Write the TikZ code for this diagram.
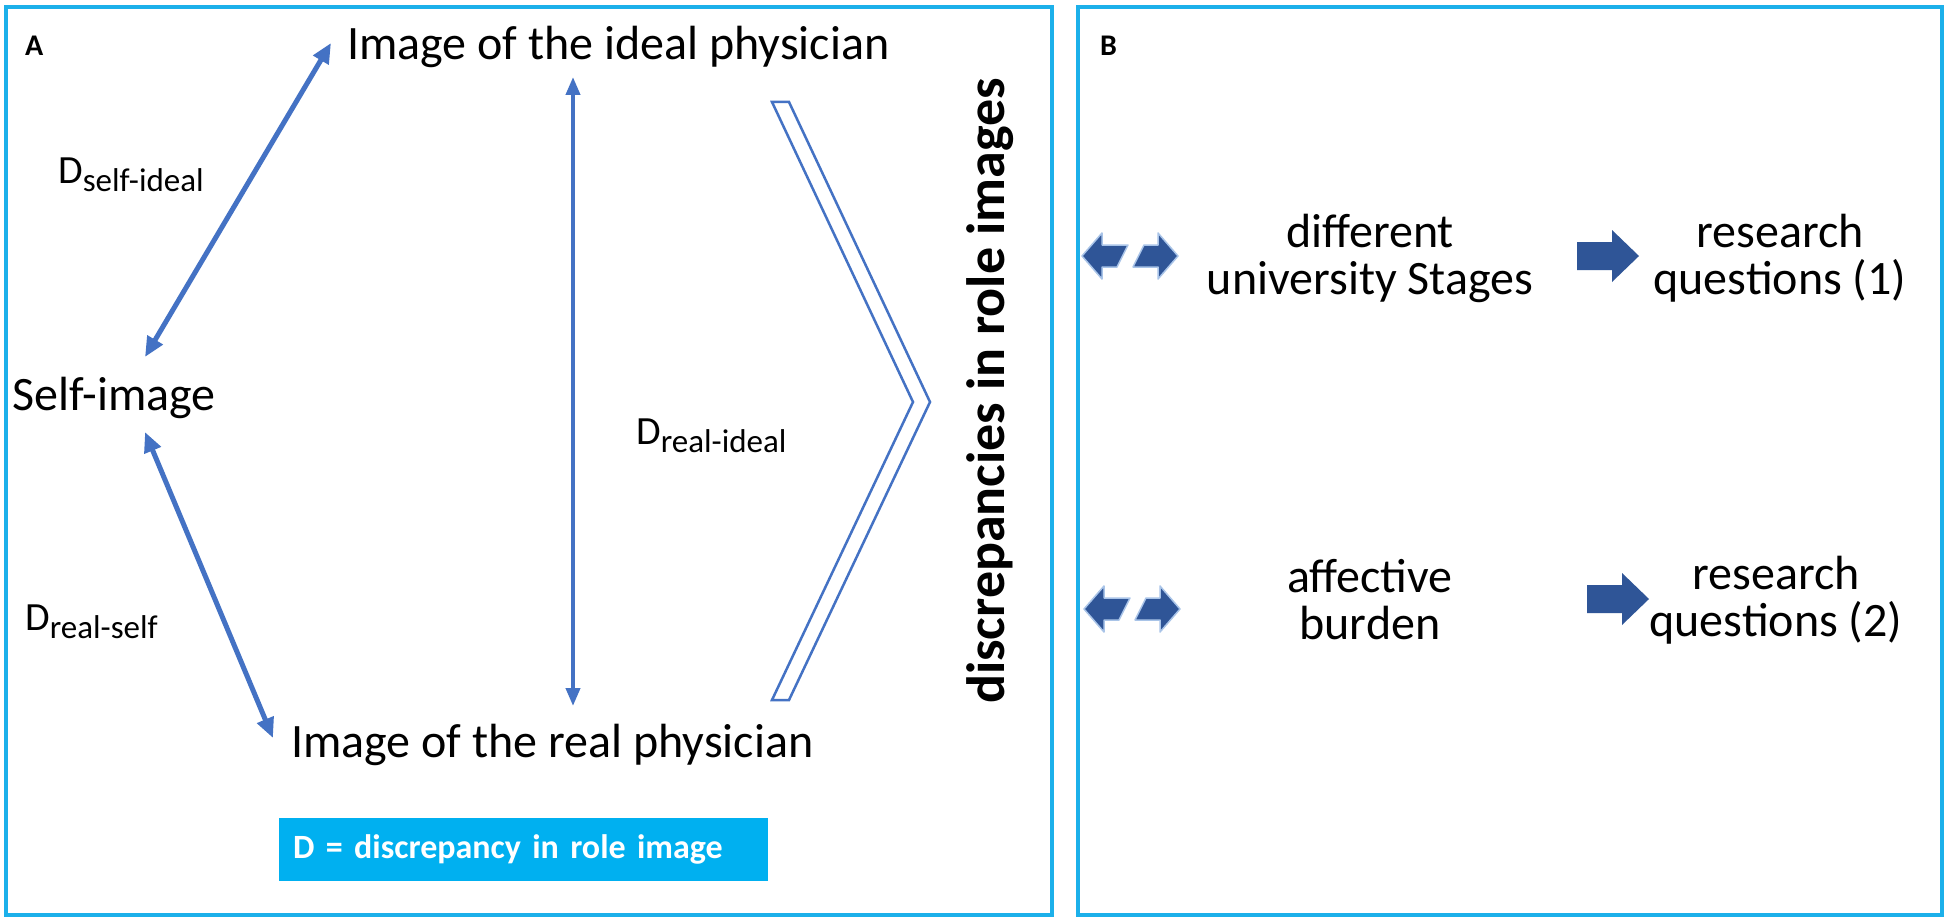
\documentclass[tikz,border=0pt]{standalone}
\usepackage{fontspec}
\setmainfont{Carlito}
\usetikzlibrary{arrows.meta}
\definecolor{frame}{HTML}{1CB0EA}
\definecolor{lineblue}{HTML}{4472C4}
\definecolor{darkblue}{HTML}{2F5597}
\definecolor{glow}{HTML}{A9C4E8}
\definecolor{cyanbox}{HTML}{00B0F0}
\newcommand{\dlab}[1]{{\fontsize{40}{42}\selectfont D}\raisebox{-8pt}{\fontsize{33}{35}\selectfont #1}}
\begin{document}
\begin{tikzpicture}[x=1pt,y=-1pt,
  panel/.style={draw=frame, line width=4.5pt},
  big/.style={font=\fontsize{48}{47}\selectfont, inner sep=0pt},
  lbl/.style={font=\bfseries\fontsize{30}{32}\selectfont, inner sep=0pt, anchor=base west},
  dl/.style={inner sep=0pt, anchor=base west},
  conn/.style={draw=lineblue, line width=5pt, {Triangle[length=20pt,width=17pt]}-{Triangle[length=20pt,width=17pt]}},
  thinconn/.style={draw=lineblue, line width=4pt, {Triangle[length=18pt,width=14pt]}-{Triangle[length=18pt,width=14pt]}},
  splitarrow/.pic={
    \filldraw[fill=darkblue, draw=glow, line width=1.5pt, line join=round]
      (0,0) -- (20,-23) -- (20,-11) -- (46,-11) -- (35,11) -- (20,11) -- (20,23) -- cycle;
    \filldraw[fill=darkblue, draw=glow, line width=1.5pt, line join=round]
      (96,0) -- (76,-23) -- (76,-11) -- (62,-11) -- (51,11) -- (76,11) -- (76,23) -- cycle;
  },
  blockarrow/.pic={
    \fill[darkblue] (0,-14) -- (35,-14) -- (35,-26) -- (62,0) -- (35,26) -- (35,14) -- (0,14) -- cycle;
  }
]
\useasboundingbox (0,0) rectangle (1949,923);
\fill[white] (0,0) rectangle (1949,923);
\draw[panel] (6,7) rectangle (1052,915);
\draw[panel] (1078,7) rectangle (1942,915);

% Panel A
\node[lbl] (lblA) at (25,56) {A};
\node[big, anchor=base west] (ideal) at (347,60) {Image of the ideal physician};
\node[big, anchor=base west] (real) at (291,757) {Image of the real physician};
\node[big, anchor=base west] (selfimg) at (12,410) {Self-image};

\coordinate (ideal-in) at (331,43);
\coordinate (self-up) at (145,357);
\coordinate (self-down) at (145,432);
\coordinate (real-in) at (273,738);
\coordinate (ideal-v) at (573,77);
\coordinate (real-v) at (573,706);

\draw[conn] (self-up) -- (ideal-in);
\draw[conn] (self-down) -- (real-in);
\draw[thinconn] (ideal-v) -- (real-v);

\node[dl] (dsi) at (58,183) {\dlab{self-ideal}};
\node[dl] (drs) at (25,630) {\dlab{real-self}};
\node[dl] (dri) at (636,444) {\dlab{real-ideal}};

\draw[lineblue, line width=2.5pt, line join=miter]
  (772,102) -- (789,102) -- (930,402) -- (789,700) -- (772,700) -- (913,402) -- cycle;

\node[rotate=90, font=\bfseries\fontsize{54}{58}\selectfont, inner sep=0pt] (disc) at (990,391) {discrepancies in role images};

\node[anchor=north west, fill=cyanbox, text=white, font=\bfseries\fontsize{34}{38}\selectfont,
  minimum height=63pt, text width=461pt, inner xsep=14pt, inner ysep=0pt, align=left] (legend) at (279,818)
  {D = discrepancy in role image};

% Panel B
\node[lbl] (lblB) at (1100,56) {B};

\node[big, align=center] (diff) at (1370,258) {different\\university Stages};
\node[big, align=center] (aff) at (1370,600) {affective\\burden};
\node[big, align=center] (rq1) at (1780,258) {research\\questions (1)};
\node[big, align=center] (rq2) at (1776,600) {research\\questions (2)};

\pic at (1082,256) {splitarrow};
\pic at (1084,609) {splitarrow};
\pic at (1577,256) {blockarrow};
\pic at (1587,599) {blockarrow};
\end{tikzpicture}
\end{document}
